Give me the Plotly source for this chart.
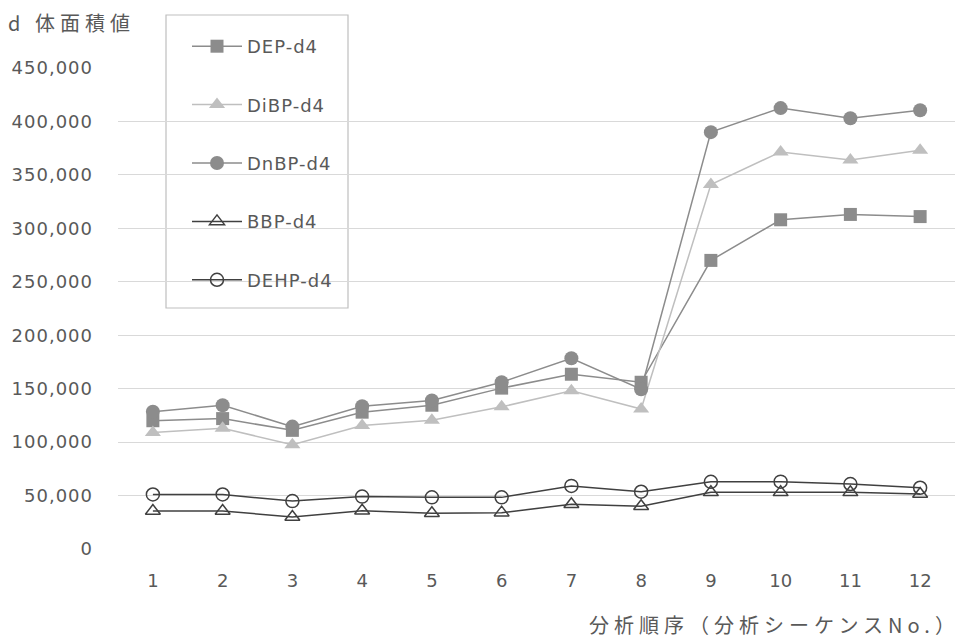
import plotly.graph_objects as go

# Analysis sequence numbers (category axis)
seq = [str(i) for i in range(1, 13)]

# Surrogate peak areas per compound
dep_d4 = [120000, 122000, 111000, 128000, 134500, 150500, 163500, 156000, 270000, 308000, 313000, 311000]
dibp_d4 = [109000, 113000, 97500, 115500, 120500, 133000, 148000, 131000, 341000, 371500, 364000, 373000]
dnbp_d4 = [128500, 134500, 114500, 133500, 139000, 156000, 178500, 149500, 390000, 412500, 403000, 410500]
bbp_d4 = [35500, 35500, 30000, 35800, 33500, 34000, 41800, 40000, 53000, 53000, 53000, 51500]
dehp_d4 = [51000, 51000, 44800, 49000, 48300, 48300, 59000, 53600, 62800, 63000, 60800, 57300]

y_ticks = [0, 50000, 100000, 150000, 200000, 250000, 300000, 350000, 400000, 450000]


def spaced(text, px):
    return f'<span style="letter-spacing:{px}px">{text}</span>'


y_tick_text = [spaced("{:,}".format(v), 1) for v in y_ticks]

FONT = "DejaVu Sans, Noto Sans CJK JP"
JP_FONT = "Noto Sans CJK JP"
TXT = "#595959"

series = [
    ("DEP-d4", dep_d4, dict(symbol="square", size=13, color="#8c8c8c"), "#8c8c8c"),
    ("DiBP-d4", dibp_d4, dict(symbol="triangle-up", size=14, color="#bfbfbf"), "#bfbfbf"),
    ("DnBP-d4", dnbp_d4, dict(symbol="circle", size=14, color="#8c8c8c"), "#8c8c8c"),
    ("BBP-d4", bbp_d4, dict(symbol="triangle-up-open", size=13, color="#404040",
                            line=dict(width=1.5)), "#404040"),
    ("DEHP-d4", dehp_d4, dict(symbol="circle-open", size=13, color="#404040",
                              line=dict(width=1.5)), "#404040"),
]

fig = go.Figure()
for i, (name, vals, marker, lc) in enumerate(series):
    fig.add_trace(go.Scatter(
        x=seq, y=vals, name=spaced(name, 1), mode="lines+markers",
        line=dict(color=lc, width=1.5),
        marker=marker,
        legendgroup=f"g{i}",
    ))

# plot area: x 118..955 px, y 68..549 px
PW, PH = 837.0, 481.0


def px_x(px):
    return (px - 118) / PW


def px_y(py):
    return (549 - py) / PH


fig.update_layout(
    width=958, height=644,
    margin=dict(l=118, r=3, t=68, b=95),
    paper_bgcolor="white", plot_bgcolor="white",
    font=dict(family=FONT, color=TXT, size=18),
    showlegend=True,
    legend=dict(
        x=px_x(187), y=px_y(28), xanchor="left", yanchor="top",
        borderwidth=0, bgcolor="rgba(0,0,0,0)",
        font=dict(family=FONT, size=18, color=TXT),
        itemwidth=50, tracegroupgap=32,
    ),
    shapes=[
        dict(type="rect", xref="paper", yref="paper",
             x0=px_x(166), x1=px_x(348), y0=px_y(308), y1=px_y(15),
             line=dict(color="#bfbfbf", width=1.2), fillcolor="white", layer="below"),
    ],
    xaxis=dict(
        type="category", range=[-0.5, 11.5], showgrid=False, zeroline=False, showline=False,
        ticks="", tickfont=dict(size=18, color=TXT), ticklabelstandoff=19,
    ),
    yaxis=dict(
        range=[0, 450000], tickvals=y_ticks, ticktext=y_tick_text,
        showgrid=True, gridcolor="#d9d9d9", gridwidth=1.4,
        zeroline=False, showline=False, ticks="",
        tickfont=dict(size=18, color=TXT), ticklabelstandoff=24,
    ),
    annotations=[
        dict(text=spaced("d 体面積値", 5), xref="paper", yref="paper", x=0, y=1,
             xanchor="left", yanchor="bottom", xshift=-112, yshift=29,
             showarrow=False, font=dict(size=20, color=TXT, family=JP_FONT)),
        dict(text=spaced("分析順序（分析シーケンスNo.", 5) + "）", xref="paper", yref="paper",
             x=1, y=0, xanchor="right", yanchor="top", xshift=2, yshift=-59,
             showarrow=False, font=dict(size=20, color=TXT, family=JP_FONT)),
    ],
)

fig.write_html("out.html")
